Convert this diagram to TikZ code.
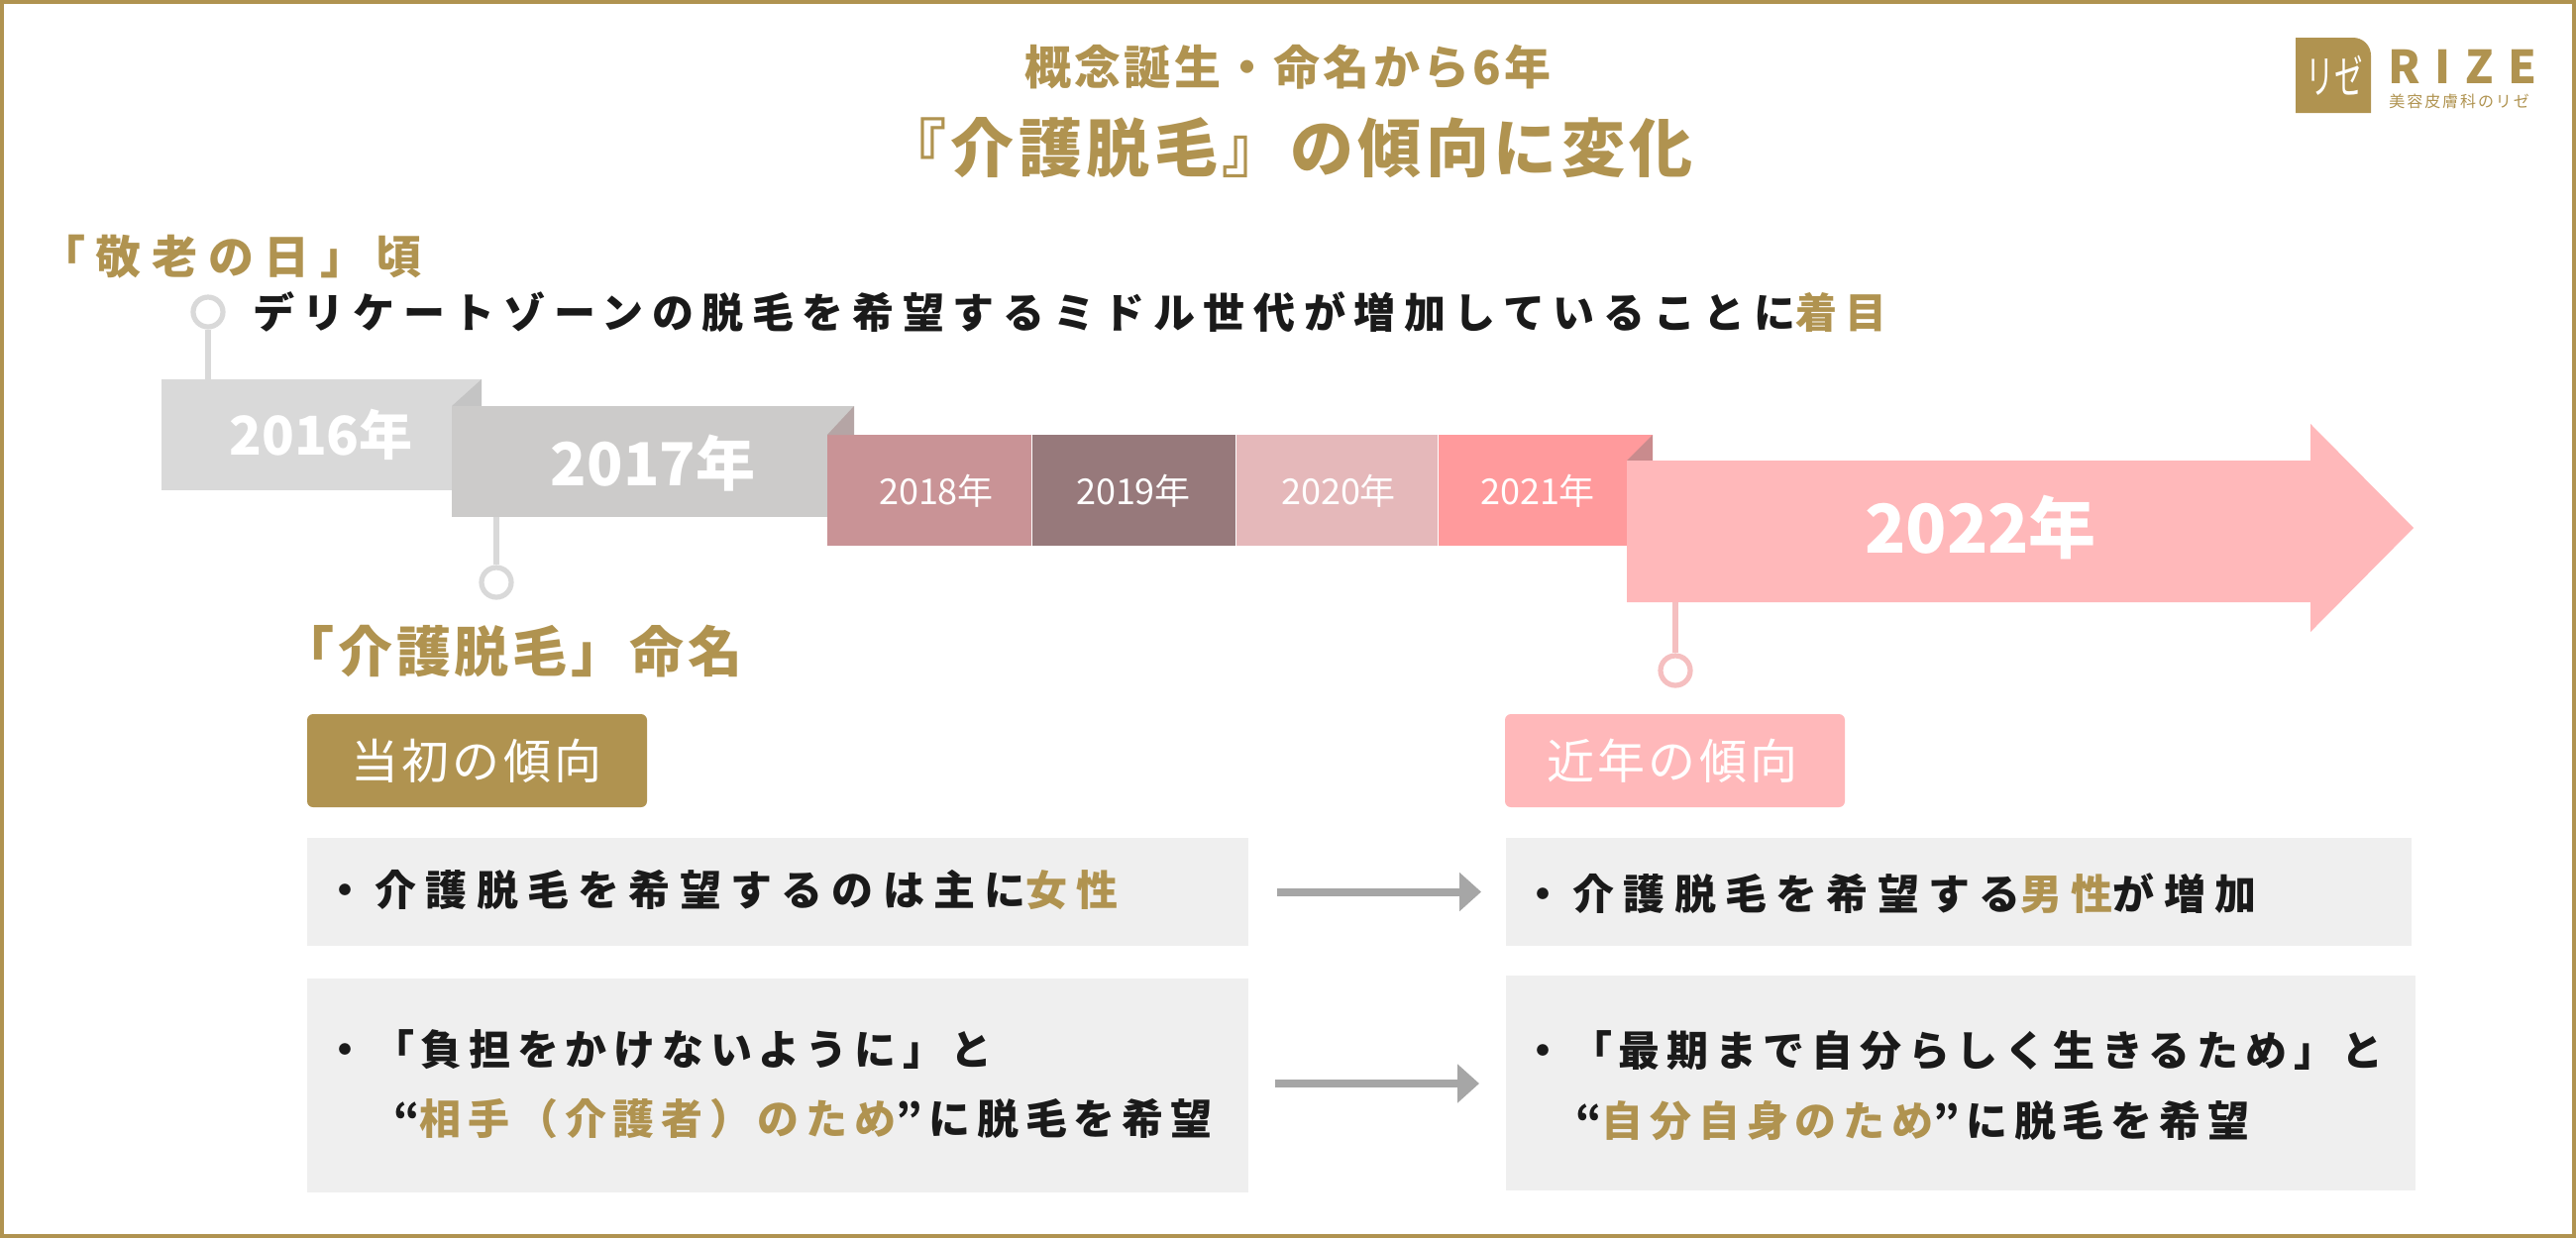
\documentclass[tikz,border=0pt]{standalone}
\usepackage{fontspec}
\usepackage{graphicx}
\usetikzlibrary{arrows.meta}
\newfontfamily\jpz{Noto Sans CJK JP}
\newfontfamily\jpa[LetterSpace=22]{Noto Sans CJK JP}
\newfontfamily\jpk[LetterSpace=16]{Noto Sans CJK JP}
\newfontfamily\jpt[LetterSpace=20.5]{Noto Sans CJK JP}
\newfontfamily\jpb[LetterSpace=23]{Noto Sans CJK JP}
\newfontfamily\jpc[LetterSpace=7]{Noto Sans CJK JP}
\newfontfamily\jpd[LetterSpace=12]{Noto Sans CJK JP}
\newfontfamily\jpe[LetterSpace=32]{Noto Sans CJK JP}
\definecolor{gold}{HTML}{B09350}
\definecolor{ink}{HTML}{1A1A1A}
\definecolor{cA}{HTML}{D9D9D9}
\definecolor{cB}{HTML}{CCCBCA}
\definecolor{cC}{HTML}{C99396}
\definecolor{cD}{HTML}{97797B}
\definecolor{cE}{HTML}{E5B8BA}
\definecolor{cF}{HTML}{FF9A9C}
\definecolor{pinkB}{HTML}{FFB8BA}
\definecolor{foldA}{HTML}{C4C4C4}
\definecolor{foldB}{HTML}{B5A5A5}
\definecolor{foldC}{HTML}{C98B8D}
\definecolor{stemP}{HTML}{F5BFC0}
\definecolor{rowbg}{HTML}{EFEFEF}
\definecolor{arrowG}{HTML}{A6A6A6}
\tikzset{
  boxn/.style={rectangle,inner sep=0pt,outer sep=0pt,anchor=north west},
  ttl/.style={inner sep=0pt,text=gold,anchor=center},
  yrS/.style={inner sep=0pt,text=white,font={\jpz\fontsize{18}{21}\selectfont}},
  rowt/.style={inner sep=0pt,anchor=west,text=ink,font={\jpa\bfseries\fontsize{21}{25}\selectfont}},
  rowk/.style={inner sep=0pt,anchor=west,text=ink,font={\jpk\bfseries\fontsize{21}{25}\selectfont}},
  ringn/.style={circle,inner sep=0pt,minimum size=15pt,line width=2.6pt,fill=white},
  stemline/.style={line width=2.6pt},
  flow/.style={draw=arrowG,line width=4pt,-{Triangle[length=11pt,width=19pt]}},
  pilltext/.style={inner sep=0pt,text=white,font={\jpc\fontsize{24}{28}\selectfont}},
}
\newcommand{\bx}[6]{\node[boxn,fill=#6,minimum width={(#4-#2)*0.5pt},minimum height={(#5-#3)*0.5pt}] (#1) at (#2,#3) {};}
\newcommand{\pill}[6]{\node[boxn,fill=#6,rounded corners=3pt,minimum width={(#4-#2)*0.5pt},minimum height={(#5-#3)*0.5pt}] (#1) at (#2,#3) {};}
\newcommand{\gt}[1]{\textcolor{gold}{#1}}
\begin{document}
\begin{tikzpicture}[x=0.5pt,y=-0.5pt]
\useasboundingbox (0,0) rectangle (2600,1250);
\fill[white] (0,0) rectangle (2600,1250);
\draw[gold,line width=2pt] (2,2) rectangle (2598,1248);

% titles
\node[ttl,font={\jpc\bfseries\fontsize{23.5}{27}\selectfont}] (t1) at (1300,68) {概念誕生・命名から6年};
\node[ttl,font={\jpc\bfseries\fontsize{32}{37}\selectfont}] (t2) at (1300,149) {『介護脱毛』の傾向に変化};

% logo
\fill[gold] (2317,38) -- (2375,38) .. controls (2385,38) and (2393,46) .. (2393,56) -- (2393,114) -- (2317,114) -- cycle;
\node[inner sep=0pt,text=white,font={\jpz\fontsize{23}{26}\selectfont}] (lg) at (2356,76) {\scalebox{.62}[1]{リゼ}};
\node[inner sep=0pt,anchor=west,text=gold,font={\jpe\bfseries\fontsize{23}{26}\selectfont}] (lg2) at (2410,67) {RIZE};
\node[inner sep=0pt,anchor=west,text=gold,font={\jpd\fontsize{8}{10}\selectfont}] (lg3) at (2411,102) {美容皮膚科のリゼ};

% labels
\node[inner sep=0pt,anchor=west,text=gold,font={\jpb\bfseries\fontsize{23}{27}\selectfont}] (lb1) at (40,259) {「敬老の日」頃};
\node[inner sep=0pt,anchor=west,text=ink,font={\jpt\bfseries\fontsize{21}{25}\selectfont}] (lb2) at (255,315) {デリケートゾーンの脱毛を希望するミドル世代が増加していることに\gt{着目}};
\node[inner sep=0pt,anchor=west,text=gold,font={\jpc\bfseries\fontsize{27.5}{32}\selectfont}] (lb3) at (282,658) {「介護脱毛」命名};

% timeline
\bx{y16}{163}{383}{486}{495}{cA}
\fill[foldA] (486,383) -- (486,410) -- (456,410) -- cycle;
\bx{y17}{456}{410}{862}{522}{cB}
\bx{y18}{835}{439}{1041}{551}{cC}
\bx{y19}{1041}{439}{1247}{551}{cD}
\bx{y20}{1247}{439}{1451}{551}{cE}
\bx{y21}{1451}{439}{1668}{551}{cF}
\draw[white,line width=0.5pt] (y19.north west) -- (y19.south west);
\draw[white,line width=0.5pt] (y20.north west) -- (y20.south west);
\draw[white,line width=0.5pt] (y21.north west) -- (y21.south west);
\fill[foldB] (862,410) -- (862,439) -- (835,439) -- cycle;
\fill[foldC] (1668,439) -- (1668,465) -- (1642,465) -- cycle;
\fill[pinkB] (1642,465) -- (2332,465) -- (2332,428) -- (2436,533) -- (2332,638) -- (2332,608) -- (1642,608) -- cycle;

\node[inner sep=0pt,text=white,font={\jpz\bfseries\fontsize{27}{31}\selectfont}] (n16) at (324,439) {2016年};
\node[inner sep=0pt,text=white,font={\jpz\bfseries\fontsize{30}{35}\selectfont}] (n17) at (659,468) {2017年};
\node[yrS] (n18) at (945,496) {2018年};
\node[yrS] (n19) at (1144,496) {2019年};
\node[yrS] (n20) at (1351,496) {2020年};
\node[yrS] (n21) at (1552,496) {2021年};
\node[inner sep=0pt,text=white,font={\jpz\bfseries\fontsize{34}{39}\selectfont}] (n22) at (1999,533) {2022年};

% stems and rings
\coordinate (s16) at (210,383);
\coordinate (s17) at (501,522);
\coordinate (s22) at (1691,608);
\node[ringn,draw=cA] (r16) at (210,315) {};
\node[ringn,draw=cA] (r17) at (501,588) {};
\node[ringn,draw=stemP] (r22) at (1691,677) {};
\draw[stemline,cA] (r16) -- (s16);
\draw[stemline,cA] (r17) -- (s17);
\draw[stemline,stemP] (r22) -- (s22);

% pills
\pill{p1}{310}{721}{653}{815}{gold}
\pill{p2}{1519}{721}{1862}{815}{pinkB}
\node[pilltext] (p1t) at (481,768) {当初の傾向};
\node[pilltext] (p2t) at (1688,768) {近年の傾向};

% rows
\bx{l1}{310}{846}{1260}{955}{rowbg}
\bx{l2}{310}{988}{1260}{1204}{rowbg}
\bx{r1}{1520}{846}{2434}{955}{rowbg}
\bx{r2}{1520}{985}{2438}{1202}{rowbg}
\draw[flow,shorten <=14.5pt,shorten >=12.5pt] (l1.east) -- (r1.west);
\draw[flow,shorten <=13.5pt,shorten >=13.5pt] ([yshift=1pt]l2.east) -- ([yshift=-0.25pt]r2.west);

\node[rowt] (a1) at (327,899) {・介護脱毛を希望するのは主に\gt{女性}};
\node[rowk] (a2) at (327,1060) {・「負担をかけないように」と};
\node[rowk] (a3) at (397,1130) {“\gt{相手（介護者）のため}”に脱毛を希望};
\node[rowt] (b1) at (1536,902) {・介護脱毛を希望する\gt{男性}が増加};
\node[rowk] (b2) at (1536,1061) {・「最期まで自分らしく生きるため」と};
\node[rowk] (b3) at (1590,1132) {“\gt{自分自身のため}”に脱毛を希望};
\end{tikzpicture}
\end{document}
